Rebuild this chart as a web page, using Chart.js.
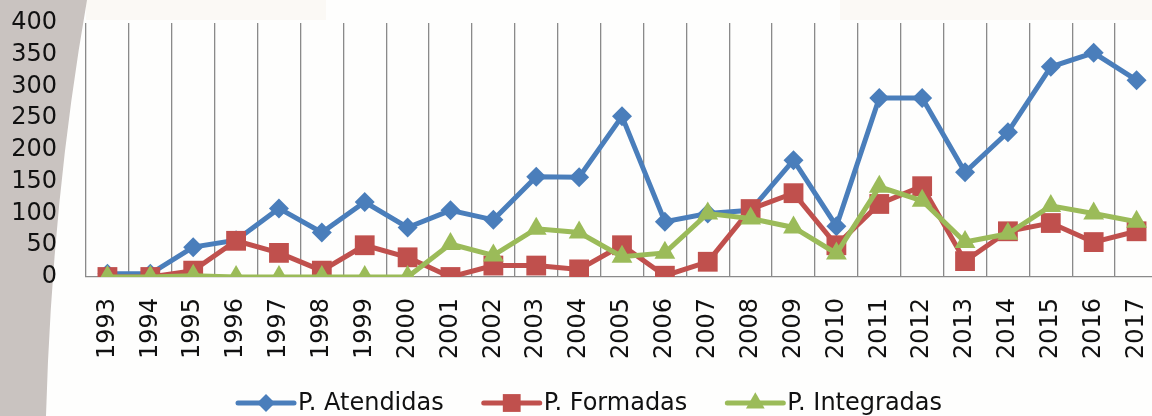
<!DOCTYPE html>
<html><head><meta charset="utf-8">
<script src="https://cdn.jsdelivr.net/npm/chart.js@4.4.0/dist/chart.umd.min.js"></script>
<style>html,body{margin:0;padding:0;overflow:hidden;background:#fefefd;}#wrap{width:1172px;height:416px;}</style>
</head><body><div id="wrap"><canvas id="c" width="1172" height="416"></canvas></div>
<script>
const years = ['1993','1994','1995','1996','1997','1998','1999','2000','2001','2002','2003','2004','2005','2006','2007','2008','2009','2010','2011','2012','2013','2014','2015','2016','2017'];
const atendidas = [5,5,47,58,108,70,118,78,105,90,158,157,253,87,100,105,184,80,282,282,165,228,331,353,310];
const formadas = [0,0,10,57,38,10,50,31,0,18,18,12,50,2,24,107,132,50,115,143,25,72,85,55,72];
const integradas = [0,0,2,0,0,0,0,0,52,34,76,70,32,38,100,92,78,37,142,120,55,68,112,100,87];
const seriesNames = ['P. Atendidas','P. Formadas','P. Integradas'];
const yMin = 0, yMax = 400, yStep = 50;

const FONT = {family: "'DejaVu Sans', sans-serif", size: 24};
const BLUE = '#4a7ebb', RED = '#c0504d', GREEN = '#9bbb59';

const bgPlugin = {
  id: 'bg',
  beforeDraw(chart) {
    const ctx = chart.ctx;
    ctx.save();
    ctx.fillStyle = '#fefefd';
    ctx.fillRect(0, 0, chart.width, chart.height);
    ctx.fillStyle = '#fbf9f5';
    ctx.fillRect(86, 0, 240, 20);
    ctx.fillRect(840, 0, 340, 20);
    ctx.fillStyle = '#c9c3c0';
    ctx.beginPath();
    ctx.moveTo(0, 0);
    ctx.lineTo(87, 0);
    ctx.quadraticCurveTo(52, 200, 46, 416);
    ctx.lineTo(0, 416);
    ctx.closePath();
    ctx.fill();
    ctx.restore();
  }
};

function drawMarker(ctx, style, x, y, r, color) {
  ctx.fillStyle = color;
  ctx.beginPath();
  if (style === 'rectRot') {
    ctx.moveTo(x - r, y); ctx.lineTo(x, y - r); ctx.lineTo(x + r, y); ctx.lineTo(x, y + r);
  } else if (style === 'rect') {
    const s = r * Math.SQRT1_2;
    ctx.rect(x - s, y - s, 2 * s, 2 * s);
  } else if (style === 'triangle') {
    ctx.moveTo(x, y - r);
    ctx.lineTo(x + r * Math.sin(2 * Math.PI / 3), y - r * Math.cos(2 * Math.PI / 3));
    ctx.lineTo(x - r * Math.sin(2 * Math.PI / 3), y - r * Math.cos(2 * Math.PI / 3));
  }
  ctx.closePath();
  ctx.fill();
}

const legendPlugin = {
  id: 'customLegend',
  afterDraw(chart) {
    const ctx = chart.ctx;
    ctx.save();
    ctx.font = `${FONT.size}px ${FONT.family}`;
    ctx.textBaseline = 'middle';
    ctx.textAlign = 'left';
    let x = 238;
    const y = 403;
    chart.data.datasets.forEach(ds => {
      ctx.strokeStyle = ds.borderColor;
      ctx.lineWidth = 5;
      ctx.lineCap = 'round';
      ctx.beginPath();
      ctx.moveTo(x, y); ctx.lineTo(x + 56, y);
      ctx.stroke();
      drawMarker(ctx, ds.pointStyle, x + 28, y, ds.pointRadius * 0.9, ds.borderColor);
      ctx.fillStyle = '#111';
      ctx.fillText(ds.label, x + 60, y + 1);
      x += 60 + ctx.measureText(ds.label).width + 40;
    });
    ctx.restore();
  }
};

function zeroPad(s) { s.paddingTop = 0; s.paddingBottom = 0; s.paddingLeft = 0; s.paddingRight = 0; }

new Chart(document.getElementById('c'), {
  type: 'line',
  data: {
    labels: years,
    datasets: [
      {label: seriesNames[0], data: atendidas, borderColor: BLUE, backgroundColor: BLUE, borderWidth: 5, pointStyle: 'rectRot', pointRadius: 10, pointBorderWidth: 0, pointBackgroundColor: BLUE, tension: 0, order: 2},
      {label: seriesNames[1], data: formadas, borderColor: RED, backgroundColor: RED, borderWidth: 5, pointStyle: 'rect', pointRadius: 14, pointBorderWidth: 0, pointBackgroundColor: RED, tension: 0, order: 1},
      {label: seriesNames[2], data: integradas, borderColor: GREEN, backgroundColor: GREEN, borderWidth: 5, pointStyle: 'triangle', pointRadius: 12, pointBorderWidth: 0, pointBackgroundColor: GREEN, tension: 0, order: 0}
    ]
  },
  options: {
    responsive: false,
    animation: false,
    layout: {padding: {left: 0, right: 2, top: 23, bottom: 0}},
    plugins: {legend: {display: false}, tooltip: {enabled: false}},
    scales: {
      x: {
        offset: true,
        grid: {offset: true, color: '#8a8a8a', lineWidth: 1.3, drawTicks: false},
        border: {color: '#8a8a8a', width: 1.3},
        ticks: {font: FONT, color: '#111', minRotation: 90, maxRotation: 90, padding: 21, autoSkip: false},
        afterFit: s => { s.height = 139; zeroPad(s); }
      },
      y: {
        min: yMin, max: yMax,
        ticks: {stepSize: yStep, font: FONT, color: '#111', padding: 29, autoSkip: false},
        grid: {display: false, drawTicks: false},
        border: {display: false},
        afterFit: s => { s.width = 86; zeroPad(s); }
      }
    }
  },
  plugins: [bgPlugin, legendPlugin]
});
</script>
</body></html>
